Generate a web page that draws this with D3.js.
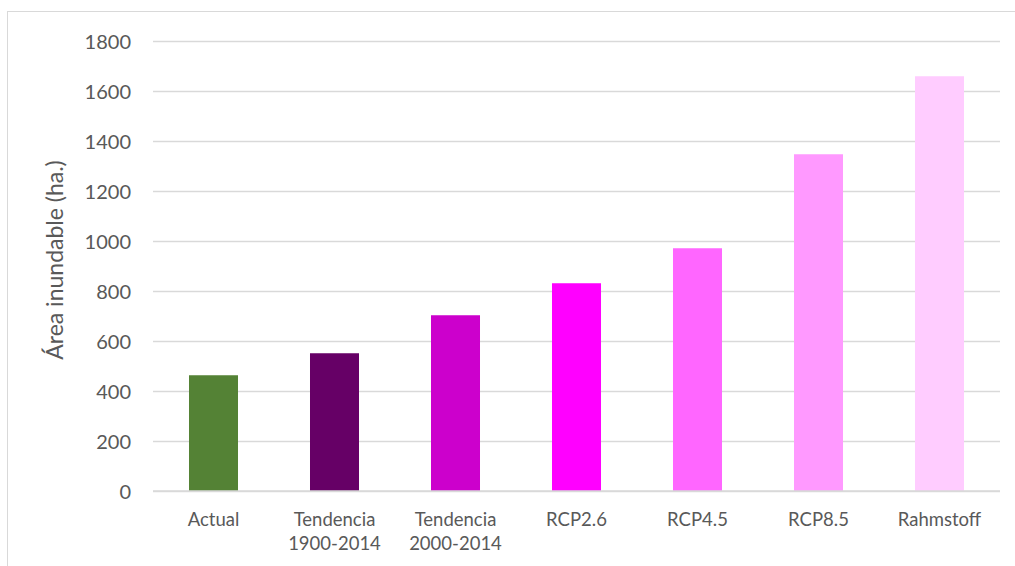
<!DOCTYPE html>
<html>
<head>
<meta charset="utf-8">
<script src="https://cdn.jsdelivr.net/npm/d3@7"></script>
<style>
  html, body { margin: 0; padding: 0; background: #fff; }
  svg text { font-family: Lato, "Open Sans", sans-serif; fill: #595959; }
</style>
</head>
<body>
<svg id="chart" width="1015" height="566"></svg>
<script>
// Flood-prone area (ha.) by scenario
const categories = [
  ["Actual"],
  ["Tendencia", "1900-2014"],
  ["Tendencia", "2000-2014"],
  ["RCP2.6"],
  ["RCP4.5"],
  ["RCP8.5"],
  ["Rahmstoff"]
];
const values = [463, 551, 703, 831, 971, 1347, 1659];
const colors = ["#548235", "#660066", "#cc00cc", "#ff00ff", "#ff66ff", "#ff99ff", "#ffccff"];
const yTicks = [0, 200, 400, 600, 800, 1000, 1200, 1400, 1600, 1800];
const yTitle = "Área inundable (ha.)";

const svg = d3.select("#chart");
const W = 1015, H = 566;
const plot = { left: 153, right: 1000, top: 41, bottom: 491 };

// Outer chart frame (open to the right and bottom edges)
svg.append("rect")
  .attr("x", 7.5).attr("y", 11.5)
  .attr("width", W + 10).attr("height", H + 10)
  .attr("fill", "none").attr("stroke", "#d9d9d9").attr("stroke-width", 1);

const x = d3.scaleBand()
  .domain(d3.range(categories.length))
  .range([plot.left, plot.right])
  .paddingInner(0.595).paddingOuter(0.2975);

const y = d3.scaleLinear().domain([0, 1800]).range([plot.bottom, plot.top]);

// Horizontal gridlines with tick labels
const yAxis = d3.axisLeft(y).tickValues(yTicks)
  .tickSize(-(plot.right - plot.left)).tickPadding(22).tickFormat(d3.format("d"));
const gy = svg.append("g").attr("transform", `translate(${plot.left},0)`).call(yAxis);
gy.select(".domain").remove();
gy.selectAll(".tick line").attr("stroke", "#d9d9d9").attr("stroke-width", 1.4);
gy.selectAll(".tick text")
  .attr("font-size", 20).attr("fill", "#595959").attr("dy", "0.36em");

// Bars
svg.append("g").selectAll("rect")
  .data(values)
  .join("rect")
  .attr("x", (d, i) => x(i))
  .attr("width", x.bandwidth())
  .attr("y", d => y(d))
  .attr("height", d => y(0) - y(d))
  .attr("fill", (d, i) => colors[i]);

// Baseline redrawn on top of bars
svg.append("line")
  .attr("x1", plot.left).attr("x2", plot.right)
  .attr("y1", y(0)).attr("y2", y(0))
  .attr("stroke", "#d9d9d9").attr("stroke-width", 1.4);

// Category labels (possibly two lines)
const xl = svg.append("g");
categories.forEach((lines, i) => {
  const t = xl.append("text")
    .attr("x", x(i) + x.bandwidth() / 2)
    .attr("y", 526)
    .attr("text-anchor", "middle")
    .attr("font-size", 18.5);
  lines.forEach((ln, j) => {
    t.append("tspan")
      .attr("x", x(i) + x.bandwidth() / 2)
      .attr("dy", j === 0 ? 0 : 24)
      .text(ln);
  });
});

// Y axis title
svg.append("text")
  .attr("transform", `translate(63,${(plot.top + plot.bottom) / 2 - 6}) rotate(-90)`)
  .attr("text-anchor", "middle")
  .attr("font-size", 23)
  .text(yTitle);
</script>
</body>
</html>
